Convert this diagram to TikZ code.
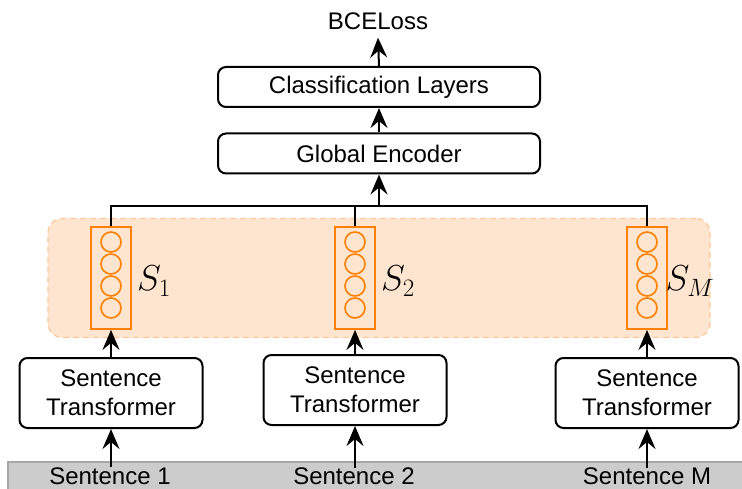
\documentclass[tikz,border=0pt]{standalone}
\usepackage{fontspec}
\setmainfont{Liberation Sans}
\usetikzlibrary{arrows.meta}
\definecolor{dorange}{HTML}{FF8000}
\definecolor{bandfill}{HTML}{FDE5D0}
\definecolor{bandline}{HTML}{FFC899}
\definecolor{barfill}{HTML}{CCCCCC}
\definecolor{barline}{HTML}{A6A6A6}
\tikzset{
  every node/.style={font=\fontsize{24}{29}\selectfont},
  box/.style={draw, line width=2pt, rounded corners=8pt, align=center, inner sep=0pt},
  vec/.style={draw=dorange, line width=1.8pt, minimum width=40pt, minimum height=102pt, inner sep=0pt},
  cell/.style={draw=dorange, line width=1.6pt, circle, minimum size=20pt, inner sep=0pt},
  arr/.style={line width=2pt, -{Stealth[length=20pt,width=17pt,inset=7pt]}},
  wire/.style={line width=2pt},
  band/.style={draw=bandline, fill=bandfill, dashed, dash pattern=on 6pt off 4pt, line width=1.2pt, rounded corners=14pt, minimum width=662pt, minimum height=119pt, inner sep=0pt},
  lab/.style={inner sep=0pt},
  slab/.style={inner sep=0pt, scale=1.45}
}
\begin{document}
\begin{tikzpicture}[x=1pt,y=-1pt]
\useasboundingbox (0,0) rectangle (742,489);
% input bar
\fill[barfill] (8,462) rectangle (742,489);
\draw[barline, line width=1.2pt] (8,489) -- (8,462) -- (742,462);
\node[lab] (in1) at (110,476) {Sentence 1};
\node[lab] (in2) at (354,476.5) {Sentence 2};
\node[lab] (in3) at (647,476.5) {Sentence M};
% band
\node[band] (band) at (379,278) {};
% sentence transformers
\node[box, minimum width=183pt, minimum height=70pt] (st1) at (111,393) {Sentence\\Transformer};
\node[box, minimum width=183pt, minimum height=70pt] (st2) at (355,390) {Sentence\\Transformer};
\node[box, minimum width=183pt, minimum height=70pt] (st3) at (647,393) {Sentence\\Transformer};
% vectors
\node[vec] (s1) at (111,278) {};
\node[vec] (s2) at (355,278) {};
\node[vec] (s3) at (647,278) {};
\foreach \v/\x in {s1/111, s2/355, s3/647}{
  \node[cell] (\v c1) at (\x,242) {};
  \node[cell] (\v c2) at (\x,264) {};
  \node[cell] (\v c3) at (\x,286) {};
  \node[cell] (\v c4) at (\x,308) {};
}
\node[slab] (s1l) at (154,281) {$S_1$};
\node[slab] (s2l) at (398,281) {$S_2$};
\node[slab] (s3l) at (690,281) {$S_M$};
% top boxes
\node[box, minimum width=322pt, minimum height=40pt] (ge) at (379,153.5) {Global Encoder};
\node[box, minimum width=322pt, minimum height=40pt] (cls) at (379,87) {Classification Layers};
\node[lab] (bce) at (378,21) {BCELoss};
% connectors
\coordinate (bar) at (379,206);
\draw[arr] (in1.north -| st1.south) -- (st1.south);
\draw[arr] (in2.north -| st2.south) -- (st2.south);
\draw[arr] (in3.north -| st3.south) -- (st3.south);
\draw[arr] (st1.north) -- (s1.south);
\draw[arr] (st2.north) -- (s2.south);
\draw[arr] (st3.north) -- (s3.south);
\draw[wire] (s1.north) |- (bar) -| (s3.north);
\draw[wire] (s2.north) -- (s2.north |- bar);
\draw[arr] (bar) -- (ge.south);
\draw[arr] (ge.north) -- (cls.south);
\draw[arr] (cls.north) -- ([yshift=-8pt]bce.south);
\end{tikzpicture}
\end{document}
